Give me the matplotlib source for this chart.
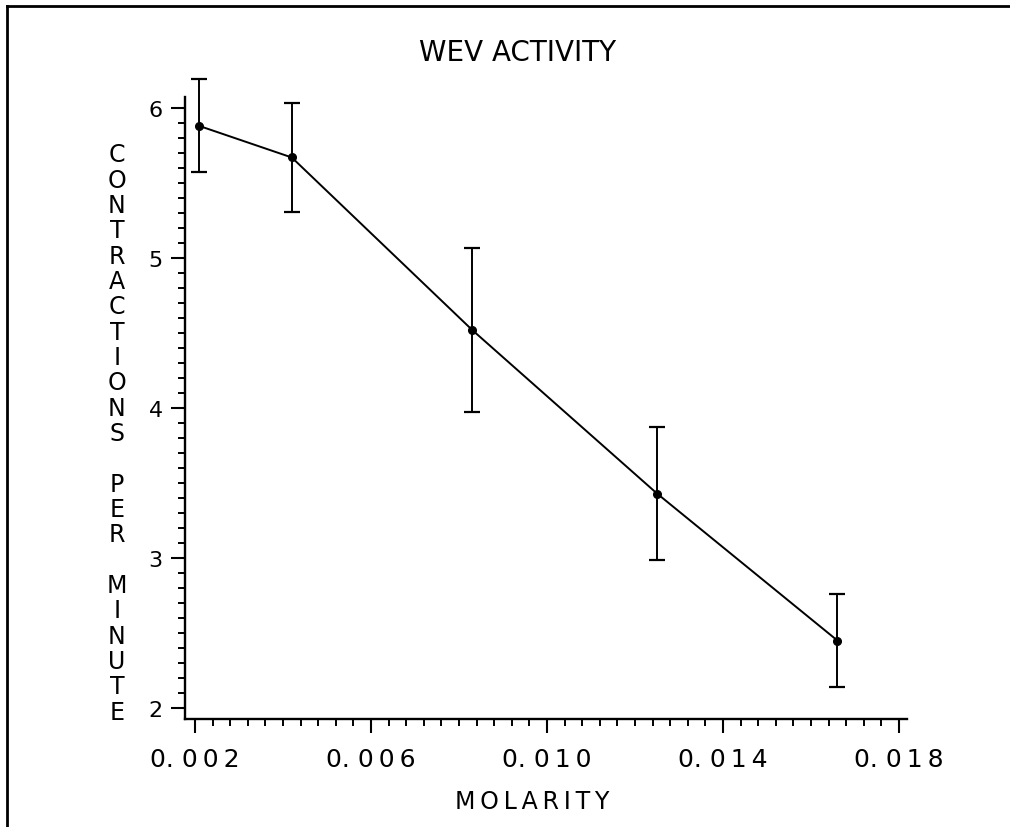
import matplotlib
matplotlib.use('Agg')
import matplotlib.pyplot as plt
from matplotlib.lines import Line2D
from matplotlib.ticker import MultipleLocator, FixedLocator, FixedFormatter

# WEV activity vs molarity
molarity = [0.0021, 0.0042, 0.0083, 0.0125, 0.0166]
contractions = [5.88, 5.67, 4.52, 3.43, 2.45]
errors = [0.31, 0.36, 0.545, 0.445, 0.31]

x_ticks = [0.002, 0.006, 0.010, 0.014, 0.018]
x_tick_labels = ['0. 002', '0. 006', '0. 010', '0. 014', '0. 018']
y_ticks = [2, 3, 4, 5, 6]

THIN = '\u2009'


def spaced(s):
    # widen the digit spacing a little, plotter style
    head, tail = s.split(' ')
    return head + ' ' + THIN.join(tail)


fig = plt.figure(figsize=(10.1, 8.28), dpi=100)
ax = fig.add_axes([0.1832, 0.1304, 0.7149, 0.7512])

eb = ax.errorbar(molarity, contractions, yerr=errors, color='black', lw=1.4,
                 marker='o', markersize=5.5, capsize=5.5, elinewidth=1.4, capthick=1.6)
for artist in eb.lines[1] + eb.lines[2]:
    artist.set_clip_on(False)
eb.lines[0].set_clip_on(False)

ax.set_xlim(0.001773, 0.018182)
ax.set_ylim(1.927, 6.073)

ax.xaxis.set_major_locator(FixedLocator(x_ticks))
ax.xaxis.set_major_formatter(FixedFormatter([spaced(t) for t in x_tick_labels]))
ax.xaxis.set_minor_locator(MultipleLocator(0.0004))
ax.yaxis.set_major_locator(FixedLocator(y_ticks))
ax.yaxis.set_minor_locator(MultipleLocator(0.1))

ax.spines['top'].set_visible(False)
ax.spines['right'].set_visible(False)
for s in ('left', 'bottom'):
    ax.spines[s].set_linewidth(1.7)

ax.tick_params(axis='both', which='major', direction='out', length=10, width=1.5, labelsize=16)
ax.tick_params(axis='both', which='minor', direction='out', length=5, width=1.4)
ax.tick_params(axis='x', which='major', pad=10, labelsize=18)
ax.tick_params(axis='y', which='major', pad=6)

ax.set_title('WEV ACTIVITY', fontsize=20, x=0.461, pad=27)
ax.set_xlabel(THIN.join('MOLARITY'), fontsize=17, va='center')
ax.xaxis.set_label_coords(0.481, -0.132)

# stacked vertical y label
ylabel = '\n'.join('CONTRACTIONS PER MINUTE')
fig.text(117 / 1010, 0.476, ylabel, fontsize=17, ha='center', va='center',
         linespacing=1.07)

# page frame, top and left edges only
fig.add_artist(Line2D([7 / 1010, 7 / 1010], [0, 1 - 7 / 828], color='black', lw=2))
fig.add_artist(Line2D([7 / 1010, 1], [1 - 7 / 828, 1 - 7 / 828], color='black', lw=2))

fig.savefig('out.png', dpi=100, facecolor='white')
